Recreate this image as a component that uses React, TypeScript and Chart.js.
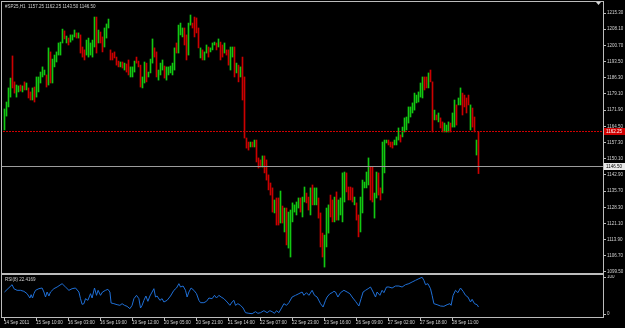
import React, { useEffect, useRef } from 'react';
import { Chart, registerables } from 'chart.js';

Chart.register(...registerables);

// ---------- data ----------
const chartTitle = '#SP25,H1  1157.25 1162.25 1143.50 1146.50';
const rsiTitle = 'RSI(8) 22.4169';

const highs = [
  1172.4, 1175.5, 1181.8, 1186.2, 1196.1, 1184.5, 1183.1, 1182.7, 1183.1, 1182.7,
  1184.5, 1184.0, 1181.8, 1180.0, 1181.8, 1182.2, 1186.7, 1186.7, 1188.9, 1191.2,
  1189.8, 1187.6, 1199.7, 1197.9, 1194.7, 1196.5, 1197.9, 1201.9, 1202.3, 1208.1,
  1207.3, 1205.0, 1204.1, 1205.5, 1205.5, 1207.7, 1206.4, 1206.4, 1205.5, 1200.1,
  1198.8, 1203.2, 1204.1, 1201.9, 1203.2, 1213.5, 1213.5, 1207.7, 1206.8, 1204.6,
  1208.6, 1210.4, 1212.6, 1198.8, 1197.4, 1197.9, 1195.6, 1193.8, 1193.4, 1193.4,
  1192.9, 1192.5, 1194.3, 1191.2, 1191.2, 1193.8, 1195.6, 1193.8, 1192.0, 1186.7,
  1193.4, 1192.9, 1188.9, 1194.7, 1203.7, 1199.7, 1197.9, 1189.8, 1192.9, 1194.3,
  1191.6, 1191.2, 1191.2, 1191.6, 1192.9, 1199.7, 1201.9, 1209.9, 1210.8, 1208.6,
  1208.6, 1205.5, 1210.8, 1214.4, 1210.8, 1213.5, 1213.1, 1208.6, 1199.7, 1198.8,
  1197.9, 1201.0, 1200.1, 1199.7, 1201.9, 1202.3, 1201.9, 1203.7, 1202.3, 1201.0,
  1201.9, 1198.8, 1198.8, 1200.1, 1200.1, 1200.1, 1192.9, 1192.0, 1191.2, 1195.6,
  1186.7, 1159.4, 1157.6, 1157.6, 1157.6, 1158.5, 1158.5, 1150.5, 1149.6, 1151.4,
  1151.4, 1149.6, 1142.9, 1139.3, 1137.1, 1131.7, 1132.6, 1132.6, 1135.7, 1129.0,
  1128.1, 1128.1, 1126.3, 1127.2, 1130.4, 1129.5, 1130.8, 1132.6, 1132.6, 1133.0,
  1137.5, 1134.8, 1133.0, 1137.1, 1138.4, 1137.1, 1137.1, 1132.6, 1125.9, 1116.9,
  1116.0, 1128.1, 1129.5, 1133.9, 1131.7, 1133.0, 1135.3, 1131.7, 1132.6, 1143.8,
  1144.2, 1143.8, 1137.5, 1137.5, 1137.1, 1133.0, 1130.4, 1125.0, 1133.0, 1140.6,
  1139.7, 1144.2, 1150.5, 1146.4, 1146.4, 1134.8, 1144.2, 1143.8, 1137.1, 1157.6,
  1158.5, 1158.5, 1158.5, 1157.6, 1157.6, 1158.5, 1159.9, 1163.9, 1160.8, 1164.3,
  1168.4, 1168.8, 1173.3, 1173.3, 1175.1, 1179.5, 1178.6, 1180.0, 1184.0, 1186.7,
  1186.7, 1186.7, 1188.5, 1189.8, 1184.5, 1171.9, 1169.7, 1170.6, 1168.4, 1166.6,
  1166.1, 1165.2, 1166.6, 1166.1, 1170.6, 1176.4, 1174.2, 1177.3, 1181.8, 1179.5,
  1178.6, 1177.3, 1178.6, 1174.2, 1172.8, 1168.8, 1158.5, 1162.25,
];

const lows = [
  1163.0, 1169.2, 1173.3, 1177.7, 1181.8, 1179.5, 1177.7, 1180.0, 1180.4, 1180.0,
  1180.9, 1180.9, 1177.3, 1176.4, 1176.4, 1175.5, 1177.7, 1180.0, 1184.0, 1186.7,
  1187.6, 1182.2, 1183.1, 1184.0, 1184.0, 1191.2, 1193.4, 1196.5, 1196.5, 1201.9,
  1203.7, 1201.9, 1201.0, 1202.3, 1203.2, 1204.6, 1204.1, 1204.1, 1197.4, 1195.6,
  1194.3, 1196.5, 1195.6, 1196.5, 1195.6, 1200.1, 1197.4, 1201.9, 1201.9, 1197.9,
  1200.1, 1204.1, 1208.6, 1194.3, 1194.3, 1195.2, 1192.0, 1191.2, 1191.2, 1190.7,
  1189.8, 1188.9, 1187.6, 1186.7, 1186.7, 1188.9, 1192.9, 1191.2, 1182.2, 1181.8,
  1184.0, 1184.5, 1186.7, 1188.5, 1192.9, 1195.6, 1186.7, 1185.3, 1187.6, 1189.8,
  1186.2, 1185.3, 1187.6, 1188.5, 1187.6, 1189.8, 1197.4, 1197.4, 1205.5, 1204.6,
  1201.0, 1194.3, 1196.5, 1209.9, 1208.6, 1204.6, 1206.4, 1199.7, 1195.2, 1194.3,
  1194.3, 1197.4, 1195.6, 1197.9, 1198.8, 1201.0, 1198.8, 1200.1, 1194.3, 1195.6,
  1197.4, 1196.5, 1192.0, 1189.8, 1195.6, 1186.7, 1188.5, 1184.5, 1186.7, 1176.4,
  1159.4, 1154.9, 1154.0, 1155.4, 1155.4, 1155.4, 1148.7, 1146.0, 1146.4, 1146.4,
  1143.8, 1140.6, 1136.2, 1133.9, 1126.3, 1125.9, 1120.5, 1120.5, 1121.4, 1121.4,
  1117.4, 1111.6, 1110.2, 1106.2, 1121.9, 1126.3, 1125.0, 1128.1, 1126.3, 1124.1,
  1130.8, 1130.4, 1127.2, 1125.0, 1129.5, 1129.5, 1129.5, 1123.6, 1110.7, 1106.2,
  1101.7, 1110.7, 1116.9, 1124.1, 1121.9, 1121.9, 1122.7, 1122.7, 1125.0, 1121.9,
  1130.8, 1135.3, 1131.7, 1131.7, 1130.8, 1129.5, 1122.7, 1115.2, 1117.4, 1125.9,
  1137.1, 1137.1, 1138.4, 1131.7, 1130.8, 1123.6, 1132.6, 1133.9, 1131.7, 1134.8,
  1143.8, 1157.2, 1156.3, 1155.4, 1154.9, 1156.3, 1156.3, 1158.5, 1157.6, 1159.9,
  1162.1, 1163.0, 1166.1, 1168.8, 1170.6, 1171.9, 1175.1, 1175.5, 1177.7, 1177.3,
  1180.9, 1181.8, 1181.8, 1184.5, 1162.1, 1167.5, 1167.5, 1166.6, 1163.9, 1162.1,
  1162.1, 1162.1, 1162.1, 1162.1, 1164.3, 1164.3, 1165.2, 1174.2, 1174.2, 1169.7,
  1173.3, 1170.6, 1174.2, 1163.0, 1164.3, 1162.1, 1151.8, 1143.5,
];

// 1 = bar closed up, 0 = bar closed down
const barUp = [
  1, 1, 1, 1, 0, 0, 1, 1, 0, 1,
  0, 1, 0, 0, 1, 0, 1, 1, 1, 1,
  1, 0, 1, 0, 1, 1, 1, 1, 1, 1,
  0, 1, 0, 1, 1, 1, 0, 1, 0, 0,
  0, 1, 1, 1, 1, 1, 0, 1, 0, 0,
  1, 1, 1, 0, 0, 0, 0, 0, 1, 0,
  1, 0, 0, 1, 1, 1, 0, 0, 0, 1,
  1, 0, 1, 1, 1, 0, 0, 1, 1, 1,
  0, 1, 1, 1, 1, 1, 0, 1, 1, 1,
  0, 0, 1, 1, 0, 0, 0, 0, 1, 0,
  1, 1, 0, 1, 1, 1, 0, 1, 0, 0,
  1, 0, 0, 1, 1, 0, 1, 0, 1, 0,
  0, 0, 0, 1, 0, 1, 0, 0, 0, 1,
  0, 0, 0, 0, 0, 1, 0, 0, 1, 0,
  1, 0, 1, 1, 1, 1, 1, 1, 0, 1,
  1, 0, 0, 1, 0, 1, 1, 0, 0, 0,
  1, 1, 1, 0, 0, 1, 0, 1, 1, 1,
  1, 0, 0, 0, 0, 1, 0, 0, 1, 1,
  1, 1, 1, 0, 0, 1, 1, 0, 0, 1,
  1, 1, 0, 0, 0, 1, 1, 1, 0, 1,
  1, 1, 1, 1, 1, 1, 1, 1, 1, 1,
  0, 0, 1, 0, 0, 1, 0, 1, 0, 0,
  1, 1, 1, 0, 1, 1, 0, 1, 1, 0,
  0, 0, 0, 1, 0, 0, 1, 0,
];

// RSI(8) samples: bar position and value
const rsiBars = [
  0, 3.8, 4.7, 6.3, 8, 9.7, 11.3, 12.7, 13.3, 14,
  14.7, 15.5, 17.2, 18.8, 19.7, 20.5, 21.3, 22.2, 23, 24.7,
  26.3, 28.8, 30.5, 32.2, 33.8, 35.5, 37.2, 38, 38.8, 39.7,
  40.5, 41.7, 43, 43.8, 45, 46, 46.8, 48, 49, 50.5,
  51.7, 52.7, 53.3, 54.7, 56.3, 57.7, 58.8, 60, 61.3, 62.7,
  63.8, 64.7, 66, 67.2, 68, 68.8, 69.7, 70.7, 71.7, 72.7,
  73.8, 74.7, 75.5, 76.3, 77.7, 78.8, 79.7, 81.3, 83, 84.7,
  86, 87.2, 88, 89.3, 90.5, 91.3, 92.2, 93.3, 94.7, 96,
  97.2, 98, 99.7, 101, 102.2, 103.8, 105, 106, 107.2, 108.3,
  109.7, 111.3, 112.7, 113.8, 114.7, 115.5, 116.7, 118, 119.3, 120.5,
  122.2, 123.8, 125.5, 126.7, 128, 129.7, 131.3, 132.7, 133.8, 135,
  136, 137.2, 138.8, 139.7, 141, 142.2, 143.8, 145.5, 147.2, 148.8,
  149.7, 151, 152.2, 153.8, 155, 156.3, 158, 159.3, 160.5, 161.3,
  162.7, 163.8, 164.7, 165.5, 166.7, 168, 169.7, 171.3, 172.7, 173.8,
  175.5, 177.2, 178.3, 179.3, 180.5, 181.8, 183, 184.3, 185.5, 186.3,
  187.7, 188.8, 189.7, 191, 192.2, 193.8, 195.5, 197.2, 198.8, 200.5,
  202.2, 203.8, 205.5, 207.2, 208.8, 209.7, 210.5, 211.7, 213, 213.8,
  214.7, 216.3, 218, 219.7, 221.3, 222.7, 223.3, 224.3, 225.5, 226.7,
  228, 229.3, 230.5, 231.7, 233, 233.8, 235, 236.3, 237,
];
const rsiValues = [
  60, 78.3, 68.3, 64.2, 64.2, 61.7, 55.8, 45, 53.3, 45,
  55.8, 64.2, 68.3, 70, 60, 47.5, 60, 50, 60, 68.3,
  72.5, 80.8, 72.5, 64.2, 68.3, 70, 60, 43.3, 29.2, 30.8,
  43.3, 39.2, 55.8, 45, 70, 51.7, 64.2, 51.7, 60, 64.2,
  66.7, 60, 32.5, 30.8, 28.3, 26.7, 30.8, 26.7, 24.2, 18.3,
  26.7, 43.3, 51.7, 43.3, 20, 26.7, 39.2, 50, 36.7, 50,
  60, 68.3, 47.5, 50, 39.2, 43.3, 35, 39.2, 50, 64.2,
  70, 80.8, 72.5, 75, 64.2, 47.5, 60, 70, 64.2, 55.8,
  39.2, 33.3, 33.3, 36.7, 45, 43.3, 51.7, 45, 51.7, 47.5,
  43.3, 35, 26.7, 35, 39.2, 26.7, 30.8, 26.7, 20, 8.3,
  6.7, 5.8, 10.8, 6.7, 8.3, 13.3, 8.3, 13.3, 10.8, 6.7,
  13.3, 8.3, 22.5, 30.8, 26.7, 33.3, 47.5, 51.7, 55.8, 60,
  51.7, 58.3, 51.7, 64.2, 51.7, 47.5, 30.8, 22.5, 39.2, 47.5,
  55.8, 58.3, 61.7, 60, 47.5, 58.3, 64.2, 60, 55.8, 47.5,
  36.7, 25, 43.3, 60, 64.2, 68.3, 72.5, 60, 47.5, 60,
  51.7, 64.2, 58.3, 72.5, 72.5, 70, 75, 75, 72.5, 78.3,
  80.8, 85, 89.2, 93.3, 96.7, 89.2, 78.3, 80.8, 68.3, 51.7,
  30.8, 28.3, 25, 24.2, 28.3, 30.8, 26.7, 51.7, 64.2, 58.3,
  70, 61.7, 51.7, 47.5, 35, 41.7, 30.8, 28.3, 22.4,
];

const priceTicks = [
  1215.3, 1208.1, 1200.7, 1193.5, 1186.3, 1179.1, 1171.9, 1164.5, 1157.3,
  1150.1, 1142.9, 1135.7, 1128.3, 1121.1, 1113.9, 1106.7, 1099.5,
];
const levelPrice = 1162.25; // red dotted horizontal line
const bidPrice = 1146.5; // current price line
const rsiTicks = [100, 0];

const timeLabels = [
  '14 Sep 2011', '15 Sep 10:00', '16 Sep 03:00', '16 Sep 19:00', '19 Sep 12:00',
  '20 Sep 05:00', '20 Sep 21:00', '21 Sep 14:00', '22 Sep 07:00', '22 Sep 23:00',
  '23 Sep 16:00', '26 Sep 09:00', '27 Sep 02:00', '27 Sep 18:00', '28 Sep 11:00',
];
const timeLabelBars = [0, 16, 32, 48, 64, 80, 96, 112, 128, 144, 160, 176, 192, 208, 224];

// ---------- styling ----------
const W = 625;
const MAIN_H = 275;
const RSI_H = 53;
const FONT = '4.5px "Liberation Sans", Arial, sans-serif';
const TXT = '#d2d2d2';
const FRAME = '#bcbcbc';
const UP = '#12c812';
const DOWN = '#cc0000';
const X_MIN = -1.25;
const X_MAX = 299.25;
const P_MIN = 1099.05;
const P_MAX = 1220.22;

export default function App() {
  const mainRef = useRef<HTMLCanvasElement>(null);
  const rsiRef = useRef<HTMLCanvasElement>(null);

  useEffect(() => {
    document.body.style.margin = '0';
    document.body.style.background = '#000';

    const mainPlugin = {
      id: 'mtMain',
      beforeDraw(chart: any) {
        const ctx = chart.ctx;
        ctx.save();
        ctx.fillStyle = '#000';
        ctx.fillRect(0, 0, chart.width, chart.height);
        ctx.restore();
      },
      afterDatasetsDraw(chart: any) {
        const ctx = chart.ctx;
        const ys = chart.scales.y;
        const { left, right } = chart.chartArea;
        ctx.save();
        // red dotted level line
        const ry = Math.floor(ys.getPixelForValue(levelPrice));
        ctx.fillStyle = '#d00000';
        for (let x = left + 1; x < right; x += 3) ctx.fillRect(x, ry, 2, 1);
        // bid line
        const by = Math.floor(ys.getPixelForValue(bidPrice));
        ctx.fillStyle = '#9c9c9c';
        ctx.fillRect(left, by, right - left, 1);
        // frame
        ctx.fillStyle = FRAME;
        ctx.fillRect(1, 1, 603, 1);
        ctx.fillRect(1, 1, 1, 274);
        ctx.fillRect(603, 1, 1, 274);
        ctx.fillRect(1, 273, 603, 2);
        // shift marker
        ctx.fillStyle = '#d8d8d8';
        ctx.beginPath();
        ctx.moveTo(596, 2);
        ctx.lineTo(601, 2);
        ctx.lineTo(598.5, 5);
        ctx.closePath();
        ctx.fill();
        // price labels
        ctx.font = FONT;
        ctx.textBaseline = 'middle';
        ctx.textAlign = 'left';
        priceTicks.forEach((v) => {
          const py = ys.getPixelForValue(v);
          ctx.fillStyle = FRAME;
          ctx.fillRect(604, Math.floor(py), 2, 1);
          ctx.fillStyle = TXT;
          ctx.fillText(v.toFixed(2), 607, py);
        });
        // level label box
        ctx.fillStyle = '#d00000';
        ctx.fillRect(604, ry - 3, 21, 7);
        ctx.fillStyle = '#ffffff';
        ctx.fillText(levelPrice.toFixed(2), 606, ry + 0.5);
        // bid label box
        ctx.fillStyle = '#e8e8e8';
        ctx.fillRect(604, by - 3, 21, 7);
        ctx.fillStyle = '#000000';
        ctx.fillText(bidPrice.toFixed(2), 606, by + 0.5);
        // title
        ctx.fillStyle = TXT;
        ctx.fillText(chartTitle, 5, 7);
        ctx.restore();
      },
    };

    const rsiPlugin = {
      id: 'mtRsi',
      beforeDraw(chart: any) {
        const ctx = chart.ctx;
        ctx.save();
        ctx.fillStyle = '#000';
        ctx.fillRect(0, 0, chart.width, chart.height);
        ctx.restore();
      },
      afterDatasetsDraw(chart: any) {
        const ctx = chart.ctx;
        const ys = chart.scales.y;
        const xs = chart.scales.x;
        ctx.save();
        ctx.fillStyle = FRAME;
        ctx.fillRect(1, 0, 1, 43);
        ctx.fillRect(603, 0, 1, 43);
        ctx.fillRect(1, 42, 603, 1);
        ctx.font = FONT;
        ctx.textBaseline = 'middle';
        ctx.textAlign = 'left';
        rsiTicks.forEach((v) => {
          const py = Math.min(Math.max(ys.getPixelForValue(v), 2), 39);
          ctx.fillStyle = FRAME;
          ctx.fillRect(604, Math.floor(py), 2, 1);
          ctx.fillStyle = TXT;
          ctx.fillText(String(v), 607, py);
        });
        ctx.fillStyle = TXT;
        ctx.fillText(rsiTitle, 5, 4.5);
        // time axis
        timeLabelBars.forEach((b, i) => {
          const px = Math.floor(xs.getPixelForValue(b));
          ctx.fillStyle = FRAME;
          ctx.fillRect(px, 43, 1, 3);
          ctx.fillStyle = TXT;
          ctx.fillText(timeLabels[i], px, 48);
        });
        ctx.restore();
      },
    };

    const mainChart = new Chart(mainRef.current as HTMLCanvasElement, {
      type: 'bar',
      data: {
        datasets: [
          {
            data: highs.map((h, i) => ({ x: i, y: [lows[i], h] })) as any,
            backgroundColor: barUp.map((u) => (u ? UP : DOWN)),
            barThickness: 1,
            borderWidth: 0,
            borderSkipped: false,
          } as any,
        ],
      },
      options: {
        responsive: false,
        animation: false,
        devicePixelRatio: 1,
        events: [],
        layout: { padding: { left: 2, top: 2, right: 22, bottom: 2 } },
        plugins: { legend: { display: false }, tooltip: { enabled: false } },
        scales: {
          x: { type: 'linear', min: X_MIN, max: X_MAX, display: false, offset: false },
          y: { type: 'linear', min: P_MIN, max: P_MAX, display: false },
        },
      } as any,
      plugins: [mainPlugin],
    });

    const rsiChart = new Chart(rsiRef.current as HTMLCanvasElement, {
      type: 'line',
      data: {
        datasets: [
          {
            data: rsiBars.map((b, i) => ({ x: b, y: rsiValues[i] })),
            borderColor: '#1f6fd6',
            borderWidth: 1,
            pointRadius: 0,
            tension: 0,
            fill: false,
          },
        ],
      },
      options: {
        responsive: false,
        animation: false,
        devicePixelRatio: 1,
        events: [],
        layout: { padding: { left: 2, top: 1, right: 22, bottom: 12 } },
        plugins: { legend: { display: false }, tooltip: { enabled: false } },
        scales: {
          x: { type: 'linear', min: X_MIN, max: X_MAX, display: false },
          y: { type: 'linear', min: 0, max: 100, display: false },
        },
      } as any,
      plugins: [rsiPlugin],
    });

    return () => {
      mainChart.destroy();
      rsiChart.destroy();
    };
  }, []);

  return (
    <div style={{ position: 'absolute', left: 0, top: 0, width: W, height: MAIN_H + RSI_H, background: '#000' }}>
      <canvas ref={mainRef} width={W} height={MAIN_H} style={{ position: 'absolute', left: 0, top: 0, width: W, height: MAIN_H }} />
      <canvas ref={rsiRef} width={W} height={RSI_H} style={{ position: 'absolute', left: 0, top: MAIN_H, width: W, height: RSI_H }} />
    </div>
  );
}
